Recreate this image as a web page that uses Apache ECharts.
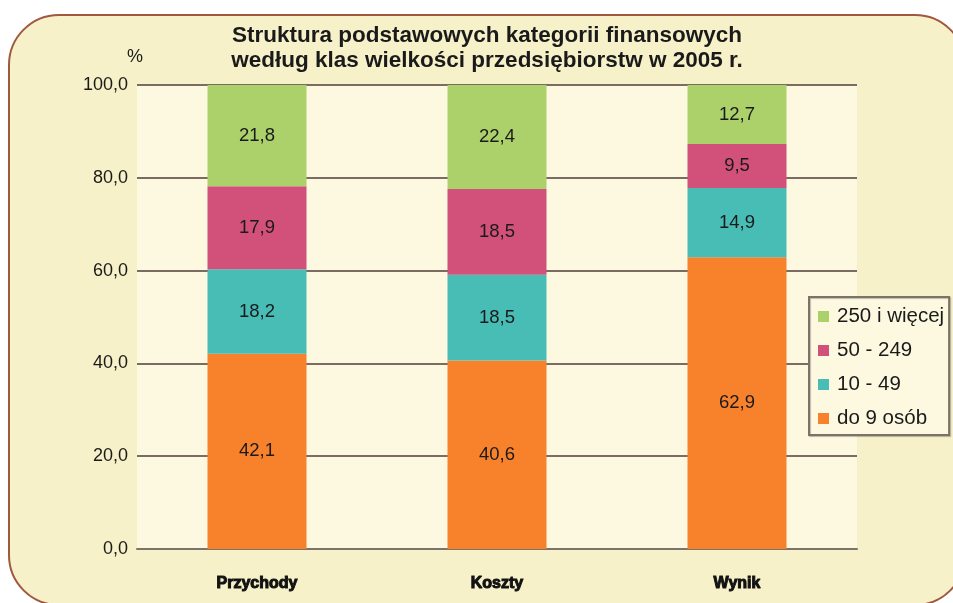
<!DOCTYPE html>
<html><head><meta charset="utf-8">
<script src="https://cdn.jsdelivr.net/npm/echarts@6/dist/echarts.min.js"></script>
<style>html,body{margin:0;padding:0;background:#fff;}#c{width:953px;height:603px;}</style>
</head><body><div id="c"></div>
<script>
const categories = ['Przychody', 'Koszty', 'Wynik'];
const seriesNames = ['do 9 osób', '10 - 49', '50 - 249', '250 i więcej'];
const do9 = [42.1, 40.6, 62.9];
const s10_49 = [18.2, 18.5, 14.9];
const s50_249 = [17.9, 18.5, 9.5];
const s250 = [21.8, 22.4, 12.7];
const yTicks = [0, 20, 40, 60, 80, 100];
const colors = ['#f8822c', '#47bdb6', '#d1517a', '#acd16b'];
const values = [do9, s10_49, s50_249, s250];

const chart = echarts.init(document.getElementById('c'), null, {renderer: 'canvas'});
const fmt = v => v.toFixed(1).replace('.', ',');
const FF = '"Liberation Sans", Arial, sans-serif';
chart.setOption({
  animation: false,
  backgroundColor: '#ffffff',
  graphic: [{
    type: 'rect', z: -10, silent: true,
    shape: {x: 9, y: 15, width: 956, height: 590, r: 50},
    style: {fill: '#f7f1c9', stroke: '#a0583f', lineWidth: 2}
  }, {
    type: 'text', left: 127, top: 48,
    style: {text: '%', font: '18px "Liberation Sans", Arial, sans-serif', fill: '#1a1a1a'}
  }],
  title: {
    text: 'Struktura podstawowych kategorii finansowych\nwedług klas wielkości przedsiębiorstw w 2005 r.',
    left: 487, top: 23, textAlign: 'center', padding: 0,
    textStyle: {fontFamily: FF, fontWeight: 'bold', fontSize: 22.5, lineHeight: 25, color: '#1a1a1a'}
  },
  legend: {
    orient: 'vertical', left: 809, top: 297,
    data: seriesNames.slice().reverse(),
    icon: 'rect', itemWidth: 11, itemHeight: 11, itemGap: 13,
    padding: [9, 5, 6, 9],
    backgroundColor: '#fdf9e1', borderColor: '#7d726a', borderWidth: 2,
    shadowColor: 'rgba(0,0,0,0.25)', shadowOffsetX: 1, shadowOffsetY: 1, shadowBlur: 1,
    textStyle: {fontFamily: FF, fontSize: 20.5, lineHeight: 20, color: '#1a1a1a', padding: [0, 0, 0, 3]}
  },
  grid: {left: 137, top: 85, width: 720, height: 464, show: true, backgroundColor: '#fdf9e1', borderWidth: 0},
  xAxis: {
    type: 'category', data: categories,
    axisLine: {show: true, lineStyle: {color: '#7d736b', width: 2}},
    axisTick: {show: false},
    axisLabel: {margin: 27, fontFamily: FF, fontWeight: 'bold', fontSize: 16, color: '#111',
      textBorderColor: '#111', textBorderWidth: 1}
  },
  yAxis: {
    type: 'value', min: 0, max: 100, interval: 20,
    axisLine: {show: false}, axisTick: {show: false},
    splitLine: {show: true, lineStyle: {color: '#7a6c62', width: 2}},
    axisLabel: {margin: 9, fontFamily: FF, fontSize: 18, color: '#1a1a1a', padding: [3, 0, 0, 0],
      formatter: v => yTicks.includes(v) ? fmt(v) : ''}
  },
  series: seriesNames.map((n, i) => ({
    name: n, type: 'bar', stack: 'all', data: values[i], barWidth: 99,
    itemStyle: {color: colors[i]},
    label: {show: true, position: 'inside', formatter: p => fmt(p.value),
      fontFamily: FF, fontSize: 18.5, color: '#1a1a1a'}
  }))
});
</script></body></html>
